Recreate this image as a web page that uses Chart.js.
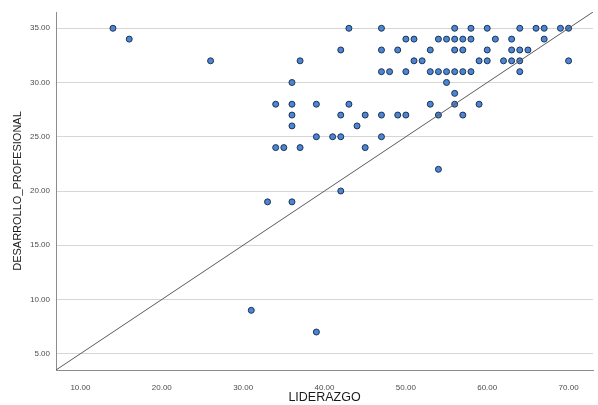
<!DOCTYPE html>
<html>
<head>
<meta charset="utf-8">
<script src="https://cdn.jsdelivr.net/npm/chart.js@4/dist/chart.umd.min.js"></script>
<style>
  html, body { margin: 0; padding: 0; background: #fff; }
  #wrap { width: 598px; height: 405px; }
</style>
</head>
<body>
<div id="wrap"><canvas id="myChart" width="598" height="405"></canvas></div>
<script>
// LIDERAZGO (x) and DESARROLLO_PROFESIONAL (y), one pair per case
var liderazgo = [
  14, 16, 26, 36, 34, 36, 36, 36, 34, 35, 37, 37,
  43, 47, 56, 58, 60, 64, 66, 67, 69, 70,
  50, 51, 54, 55, 56, 57, 58, 61, 63, 67,
  42, 47, 49, 53, 56, 57, 60, 63, 64, 65,
  51, 52, 59, 60, 62, 63, 64, 70,
  47, 48, 50, 53, 54, 55, 56, 57, 58, 64,
  55, 56,
  39, 43, 53, 56, 59,
  42, 45, 47, 49, 50, 54, 57,
  44,
  39, 41, 42, 47,
  45, 54, 42, 33, 36, 31, 39
];
var desarrollo = [
  35, 34, 32, 30, 28, 28, 27, 26, 24, 24, 24, 32,
  35, 35, 35, 35, 35, 35, 35, 35, 35, 35,
  34, 34, 34, 34, 34, 34, 34, 34, 34, 34,
  33, 33, 33, 33, 33, 33, 33, 33, 33, 33,
  32, 32, 32, 32, 32, 32, 32, 32,
  31, 31, 31, 31, 31, 31, 31, 31, 31, 31,
  30, 29,
  28, 28, 28, 28, 28,
  27, 27, 27, 27, 27, 27, 27,
  26,
  25, 25, 25, 25,
  24, 22, 20, 19, 19, 9, 7
];

var xTicks = [10, 20, 30, 40, 50, 60, 70];
var yTicks = [5, 10, 15, 20, 25, 30, 35];
var xRange = [7, 73];
var yRange = [3.5, 36.5];

var points = [];
for (var i = 0; i < liderazgo.length; i++) {
  points.push({ x: liderazgo[i], y: desarrollo[i] });
}
var refLine = [
  { x: xRange[0], y: yRange[0] },
  { x: xRange[1], y: yRange[1] }
];

var ctx = document.getElementById('myChart');
var tickFont = { family: 'Liberation Sans, Arial, sans-serif', size: 8 };

new Chart(ctx, {
  type: 'scatter',
  data: {
    datasets: [{
      type: 'line',
      data: refLine,
      borderColor: '#5a5a5a',
      borderWidth: 1,
      pointRadius: 0,
      fill: false,
      order: 0
    }, {
      data: points,
      backgroundColor: '#4a86d4',
      borderColor: '#1f3352',
      borderWidth: 1,
      pointRadius: 3,
      order: 1
    }]
  },
  options: {
    responsive: false,
    animation: false,
    layout: { padding: { top: 12, right: 1, left: 0, bottom: 0 } },
    plugins: { legend: { display: false }, tooltip: { enabled: false } },
    scales: {
      x: {
        type: 'linear',
        min: xRange[0],
        max: xRange[1],
        afterBuildTicks: function (ax) {
          ax.ticks = xTicks.map(function (v) { return { value: v }; });
        },
        afterFit: function (ax) { ax.height = 35; },
        grid: { display: false },
        border: { display: true, color: '#8c8c8c', width: 1 },
        ticks: {
          font: tickFont, color: '#4d4d4d', padding: 5, maxRotation: 0,
          callback: function (v) { return v.toFixed(2); }
        },
        title: {
          display: true, text: 'LIDERAZGO',
          font: { family: 'Liberation Sans, Arial, sans-serif', size: 12.5 },
          color: '#1a1a1a',
          padding: { top: 4, bottom: 0 }
        }
      },
      y: {
        type: 'linear',
        min: yRange[0],
        max: yRange[1],
        afterBuildTicks: function (ax) {
          ax.ticks = yTicks.map(function (v) { return { value: v }; });
        },
        afterFit: function (ax) { ax.width = 56; },
        grid: { color: '#d6d6d6', lineWidth: 1, drawTicks: false },
        border: { display: true, color: '#8c8c8c', width: 1 },
        ticks: {
          font: tickFont, color: '#4d4d4d', padding: 6,
          callback: function (v) { return v.toFixed(2); }
        },
        title: {
          display: true, text: 'DESARROLLO_PROFESIONAL',
          font: { family: 'Liberation Sans, Arial, sans-serif', size: 11 },
          color: '#1a1a1a',
          padding: { top: 11, bottom: 0 }
        }
      }
    }
  }
});
</script>
</body>
</html>
